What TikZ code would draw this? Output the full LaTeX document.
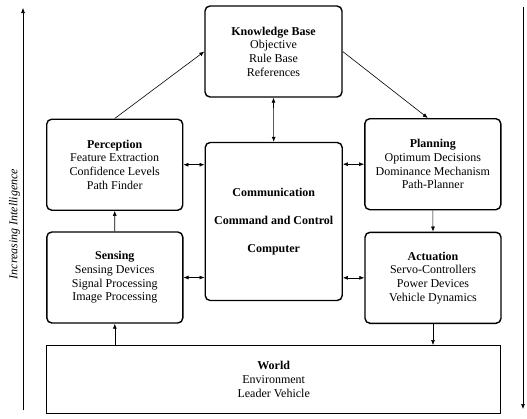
\documentclass[tikz,border=0pt]{standalone}
\usepackage{fontspec}
\setmainfont{Liberation Serif}
\usetikzlibrary{arrows.meta}
\tikzset{
  blk/.style={draw, line width=1.4pt, rounded corners=5pt, align=center, inner sep=0pt,
    font=\fontsize{12}{13.7}\selectfont},
  sqblk/.style={draw, line width=1.4pt, align=center, inner sep=0pt,
    font=\fontsize{12}{13.7}\selectfont},
  arr/.style={line width=0.6pt, -{Latex[length=5pt,width=4pt]}},
  darr/.style={line width=0.6pt, {Latex[length=5pt,width=4pt]}-{Latex[length=5pt,width=4pt]}},
  side/.style={line width=0.6pt}
}
\begin{document}
\begin{tikzpicture}[x=1pt,y=-1pt]
\useasboundingbox (0,0) rectangle (527,418);
\node[blk, minimum width=137pt, minimum height=91pt] (kb) at (273.5,51.5)
  {\textbf{Knowledge Base}\\Objective\\Rule Base\\References};
\node[blk, minimum width=136pt, minimum height=91pt] (per) at (114.7,164.7)
  {\textbf{Perception}\\Feature Extraction\\Confidence Levels\\Path Finder};
\node[blk, minimum width=136pt, minimum height=91pt] (sen) at (114.8,277.5)
  {\textbf{Sensing}\\Sensing Devices\\Signal Processing\\Image Processing};
\node[blk, minimum width=137pt, minimum height=158pt] (cc) at (273.7,221.5)
  {\textbf{Communication}\\[14.3pt]\textbf{Command and Control}\\[14.3pt]\textbf{Computer}};
\node[blk, minimum width=136pt, minimum height=91pt] (pl) at (432.8,164.2)
  {\textbf{Planning}\\Optimum Decisions\\Dominance Mechanism\\Path-Planner};
\node[blk, minimum width=136pt, minimum height=91pt] (act) at (433,277.8)
  {\textbf{Actuation}\\Servo-Controllers\\Power Devices\\Vehicle Dynamics};
\node[sqblk, minimum width=454pt, minimum height=67.6pt] (w) at (273.7,379.5)
  {\textbf{World}\\Environment\\Leader Vehicle};

\draw[arr] (per.north) -- (kb.west);
\draw[arr] (kb.east) -- ([xshift=-5pt]pl.north);
\draw[darr] (kb.south) -- (cc.north);
\draw[darr] (per.east) -- (per.east -| cc.west);
\draw[darr] (cc.east |- pl.west) -- (pl.west);
\draw[darr] (sen.east) -- (sen.east -| cc.west);
\draw[darr] (cc.east |- act.west) -- (act.west);
\draw[arr] (sen.north) -- (per.south);
\draw[arr] (sen.south |- w.north) -- (sen.south);
\draw[arr] (pl.south) -- (act.north);
\draw[arr] (act.south) -- (act.south |- w.north);

\coordinate (lb) at (23,410);
\coordinate (lt) at (23,8);
\coordinate (rt) at (523,7);
\coordinate (rb) at (523,409);
\draw[arr] (lb) -- (lt);
\draw[arr] (rt) -- (rb);
\node[rotate=90, font=\fontsize{12}{14}\selectfont\itshape] (lbl) at (14.5,224) {Increasing Intelligence};
\end{tikzpicture}
\end{document}
